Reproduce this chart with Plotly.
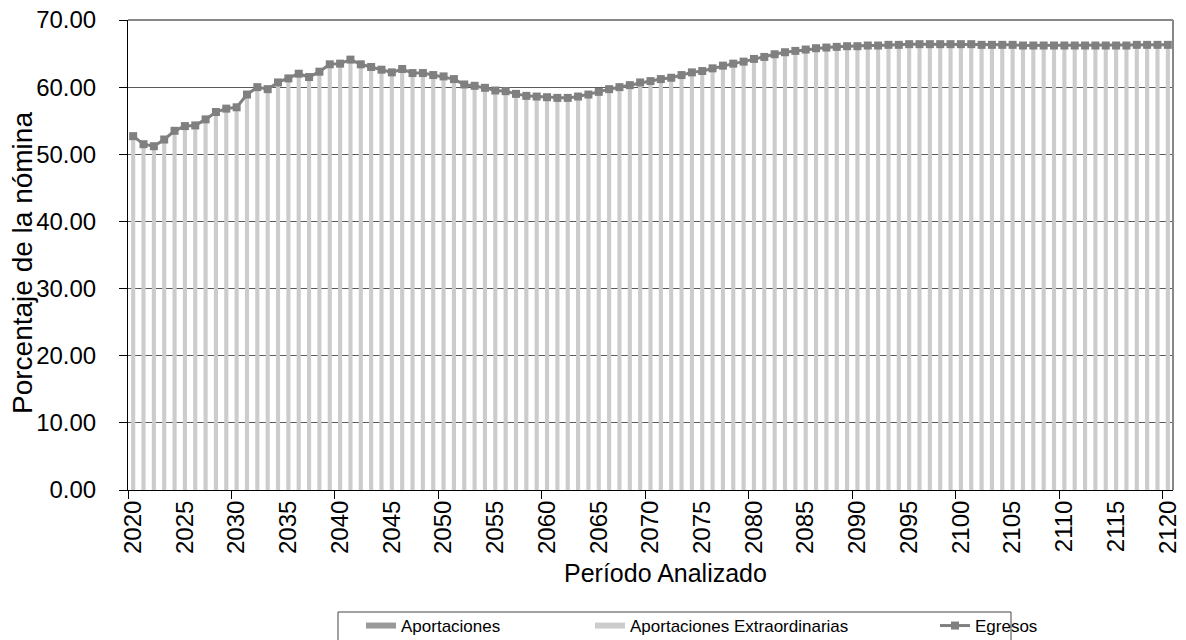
import plotly.graph_objects as go

# ---- data ----
years = list(range(2020, 2121))
egresos = [
    52.7, 51.5, 51.2, 52.2, 53.5, 54.2, 54.3, 55.2, 56.3, 56.8,   # 2020-2029
    57.0, 58.9, 60.0, 59.7, 60.7, 61.3, 62.0, 61.5, 62.3, 63.4,   # 2030-2039
    63.5, 64.1, 63.4, 63.0, 62.6, 62.2, 62.7, 62.1, 62.1, 61.8,   # 2040-2049
    61.6, 61.2, 60.4, 60.2, 59.9, 59.5, 59.4, 59.0, 58.7, 58.6,   # 2050-2059
    58.5, 58.4, 58.4, 58.6, 58.9, 59.3, 59.7, 60.0, 60.3, 60.7,   # 2060-2069
    60.9, 61.2, 61.4, 61.8, 62.2, 62.4, 62.8, 63.2, 63.5, 63.8,   # 2070-2079
    64.2, 64.5, 64.9, 65.2, 65.4, 65.6, 65.8, 65.9, 66.0, 66.1,   # 2080-2089
    66.1, 66.2, 66.2, 66.3, 66.3, 66.4, 66.4, 66.4, 66.4, 66.4,   # 2090-2099
    66.4, 66.4, 66.3, 66.3, 66.3, 66.3, 66.2, 66.2, 66.2, 66.2,   # 2100-2109
    66.2, 66.2, 66.2, 66.2, 66.2, 66.2, 66.2, 66.3, 66.3, 66.3,   # 2110-2119
    66.3,                                                         # 2120
]
aportaciones = [0.0] * len(years)
aportaciones_extra = [
    52.7, 51.5, 51.2, 52.2, 53.5, 54.2, 54.3, 55.2, 56.3, 56.8,
    57.0, 58.9, 60.0, 59.7, 60.7, 61.3, 62.0, 61.5, 62.3, 63.4,
    63.5, 64.1, 63.4, 63.0, 62.6, 62.2, 62.7, 62.1, 62.1, 61.8,
    61.6, 61.2, 60.4, 60.2, 59.9, 59.5, 59.4, 59.0, 58.7, 58.6,
    58.5, 58.4, 58.4, 58.6, 58.9, 59.3, 59.7, 60.0, 60.3, 60.7,
    60.9, 61.2, 61.4, 61.8, 62.2, 62.4, 62.8, 63.2, 63.5, 63.8,
    64.2, 64.5, 64.9, 65.2, 65.4, 65.6, 65.8, 65.9, 66.0, 66.1,
    66.1, 66.2, 66.2, 66.3, 66.3, 66.4, 66.4, 66.4, 66.4, 66.4,
    66.4, 66.4, 66.3, 66.3, 66.3, 66.3, 66.2, 66.2, 66.2, 66.2,
    66.2, 66.2, 66.2, 66.2, 66.2, 66.2, 66.2, 66.3, 66.3, 66.3,
    66.3,
]
x_tick_labels = list(range(2020, 2121, 5))
y_ticks = [0, 10, 20, 30, 40, 50, 60, 70]

# ---- layout geometry (screen pixels; the page body adds an 8px margin) ----
OFF = 8
W, H = 1186 - OFF, 640 - OFF
PLOT_L, PLOT_R, PLOT_T, PLOT_B = 128, 1173, 20, 490   # target screen pixels
L = PLOT_L - OFF
R = W - (PLOT_R - OFF)
T = PLOT_T - OFF
B = H - (PLOT_B - OFF)
PW, PH = W - L - R, H - T - B


def px(xs):
    return (xs - OFF - L) / PW


def py(ys):
    return (H - B - (ys - OFF)) / PH


FONT = "Liberation Sans, Arial, sans-serif"
DARK = "#999999"
LIGHT = "#cccccc"
LINE = "#808080"

fig = go.Figure()

fig.add_trace(go.Bar(x=years, y=aportaciones, width=0.4, marker_color=DARK,
                     marker_line_width=0, showlegend=False, name="Aportaciones"))
fig.add_trace(go.Bar(x=years, y=aportaciones_extra, width=0.4, marker_color=LIGHT,
                     marker_line_width=0, showlegend=False,
                     name="Aportaciones Extraordinarias"))
fig.add_trace(go.Scatter(x=years, y=egresos, mode="lines+markers", name="Egresos",
                         line=dict(color=LINE, width=3),
                         marker=dict(symbol="square", size=8, color=LINE),
                         showlegend=False, cliponaxis=False))

# legend entries
fig.add_trace(go.Scatter(x=[None], y=[None], mode="lines", name="Aportaciones",
                         line=dict(color=DARK, width=6), legend="legend"))
fig.add_trace(go.Scatter(x=[None], y=[None], mode="lines",
                         name="Aportaciones Extraordinarias",
                         line=dict(color=LIGHT, width=6), legend="legend2"))
fig.add_trace(go.Scatter(x=[None], y=[None], mode="lines+markers", name="Egresos",
                         line=dict(color=LINE, width=3),
                         marker=dict(symbol="square", size=8, color=LINE),
                         legend="legend3"))

leg_common = dict(orientation="h", yanchor="middle", xanchor="left",
                  bgcolor="rgba(0,0,0,0)", borderwidth=0,
                  font=dict(family=FONT, size=17, color="black"))

fig.update_layout(
    width=W, height=H,
    margin=dict(l=L, r=R, t=T, b=B, pad=0, autoexpand=False),
    paper_bgcolor="white", plot_bgcolor="white",
    barmode="overlay",
    font=dict(family=FONT, size=24, color="black"),
    legend=dict(x=px(361), y=py(626), **leg_common),
    legend2=dict(x=px(590), y=py(626), **leg_common),
    legend3=dict(x=px(935), y=py(626), **leg_common),
    xaxis=dict(
        range=[2019.5, 2120.5], automargin=False,
        tickmode="array", tickvals=x_tick_labels,
        ticktext=[str(v) for v in x_tick_labels],
        tickangle=-90, ticks="", showgrid=False, zeroline=False,
        showline=True, linecolor="black", linewidth=1,
        tickfont=dict(family=FONT, size=24),
        ticklabeloverflow="allow",
        minor=dict(tickmode="array",
                   tickvals=[2019.5 + 10 * i for i in range(11)],
                   ticks="outside", ticklen=8, tickcolor="black", showgrid=False),
    ),
    yaxis=dict(
        range=[0, 70], automargin=False, tickmode="array", tickvals=y_ticks,
        tickformat=".2f", ticks="outside", ticklen=8, tickcolor="black",
        showline=True, linecolor="black", linewidth=1,
        showgrid=True, gridcolor="#5a5a5a", gridwidth=1, zeroline=False,
        tickfont=dict(family=FONT, size=24),
        ticklabelstandoff=18, ticklabeloverflow="allow",
    ),
    shapes=[
        dict(type="line", xref="x domain", yref="y domain", x0=0, x1=1, y0=1, y1=1,
             line=dict(color="#888888", width=2)),
        dict(type="line", xref="x domain", yref="y domain", x0=1, x1=1, y0=0, y1=1,
             line=dict(color="#888888", width=2)),
        dict(type="rect", xref="paper", yref="paper",
             x0=px(338), x1=px(1011), y0=py(612), y1=py(660),
             line=dict(color="#444444", width=1), fillcolor="rgba(0,0,0,0)"),
    ],
    annotations=[
        dict(text="Período Analizado", xref="paper", yref="paper",
             x=px(665), y=py(573), xanchor="center", yanchor="middle",
             showarrow=False, font=dict(family=FONT, size=25)),
        dict(text="Porcentaje de la nómina", xref="paper", yref="paper",
             x=px(22), y=py(263), xanchor="center", yanchor="middle",
             textangle=-90, showarrow=False, font=dict(family=FONT, size=28)),
    ],
)

fig.write_html("out.html")
